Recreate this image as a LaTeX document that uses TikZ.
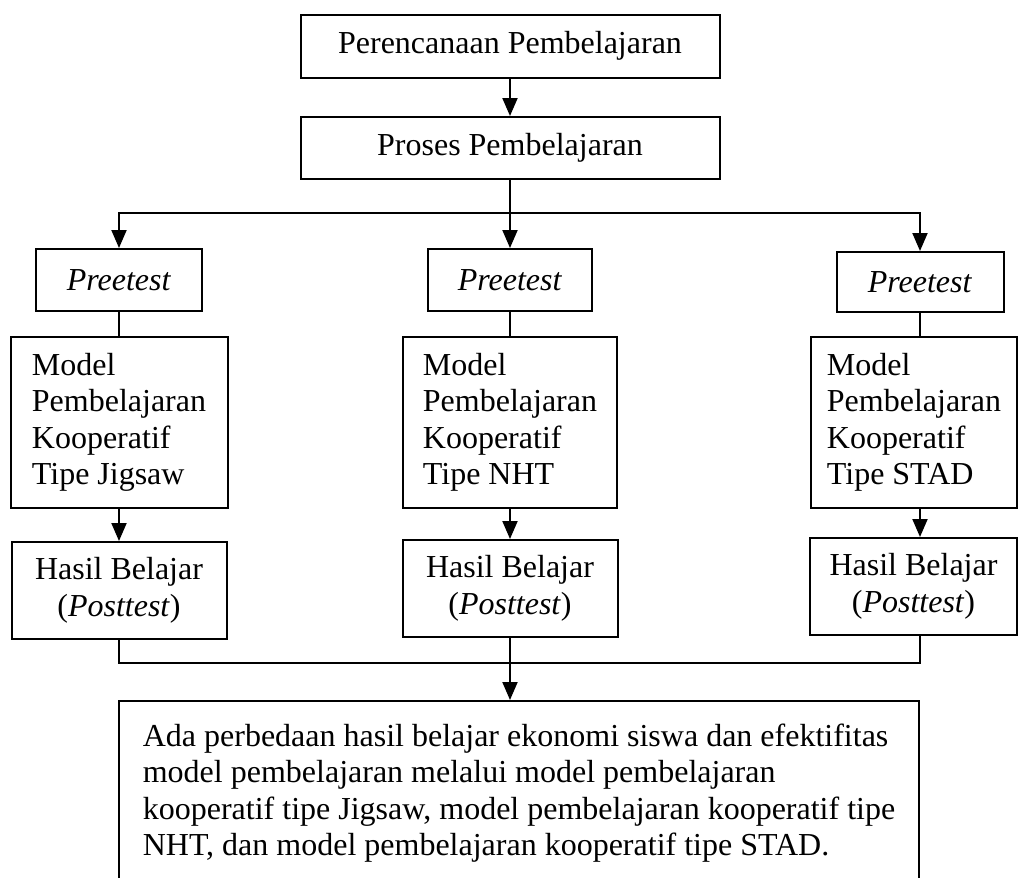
\documentclass[tikz,border=0pt]{standalone}
\usepackage{fontspec}
\setmainfont{Liberation Serif}
\usetikzlibrary{arrows.meta}

\begin{document}
\begin{tikzpicture}[x=1pt, y=-1pt, line width=2pt,
    font=\fontsize{32}{36.5}\selectfont,
    >={Triangle[length=18pt, width=15pt]},
    box/.style={draw, rectangle, inner sep=0pt, align=center},
    modbox/.style={box, align=left, minimum height=171pt},
    hasbox/.style={box, minimum height=97pt}]
  \path[use as bounding box, clip] (0,0) rectangle (1018,878);

  \node (plan) [box, minimum width=419pt, minimum height=63pt] at (510,46)
               {Perencanaan Pembelajaran};
  \node (proc) [box, minimum width=419pt, minimum height=62pt] at (510,148)
               {Proses Pembelajaran};

  \node (pre1) [box, minimum width=166pt, minimum height=62pt] at (119,280)
               {\textit{Preetest}};
  \node (pre2) [box, minimum width=164pt, minimum height=62pt] at (510,280)
               {\textit{Preetest}};
  \node (pre3) [box, minimum width=167pt, minimum height=60pt] at (920,282)
               {\textit{Preetest}};

  \node (mod1) [modbox, minimum width=217pt] at (119,422.5)
               {Model\\Pembelajaran\\Kooperatif\\Tipe Jigsaw};
  \node (mod2) [modbox, minimum width=214pt] at (510,422.5)
               {Model\\Pembelajaran\\Kooperatif\\Tipe NHT};
  \node (mod3) [modbox, minimum width=206pt] at (914,422.5)
               {Model\\Pembelajaran\\Kooperatif\\Tipe STAD};

  \node (has1) [hasbox, minimum width=215pt] at (119,590.5)
               {Hasil Belajar\\(\textit{Posttest})};
  \node (has2) [hasbox, minimum width=215pt] at (510,588.5)
               {Hasil Belajar\\(\textit{Posttest})};
  \node (has3) [hasbox, minimum width=207pt] at (913.5,586.5)
               {Hasil Belajar\\(\textit{Posttest})};

  \node (concl) [box, align=left, minimum width=800pt, minimum height=184pt] at (519,793)
                {Ada perbedaan hasil belajar ekonomi siswa dan efektifitas\\
                 model pembelajaran melalui model pembelajaran\\
                 kooperatif tipe Jigsaw, model pembelajaran kooperatif tipe\\
                 NHT, dan model pembelajaran kooperatif tipe STAD.};

  \coordinate (split) at (510,213);
  \coordinate (join)  at (510,663);

  \draw[->] (plan) -- (proc);
  \draw (proc) -- (split);
  \draw[->] (split) -| (pre1);
  \draw[->] (split) -- (pre2);
  \draw[->] (split) -| (pre3);

  \draw (pre1) -- (mod1);
  \draw (pre2) -- (mod2);
  \draw (pre3) -- (pre3 |- mod3.north);

  \draw[->] (mod1) -- (has1);
  \draw[->] (mod2) -- (has2);
  \draw[->] (pre3 |- mod3.south) -- (pre3 |- has3.north);

  \draw (has1) |- (join);
  \draw (has2) -- (join);
  \draw (pre3 |- has3.south) |- (join);
  \draw[->] (join) -- (join |- concl.north);
\end{tikzpicture}
\end{document}
